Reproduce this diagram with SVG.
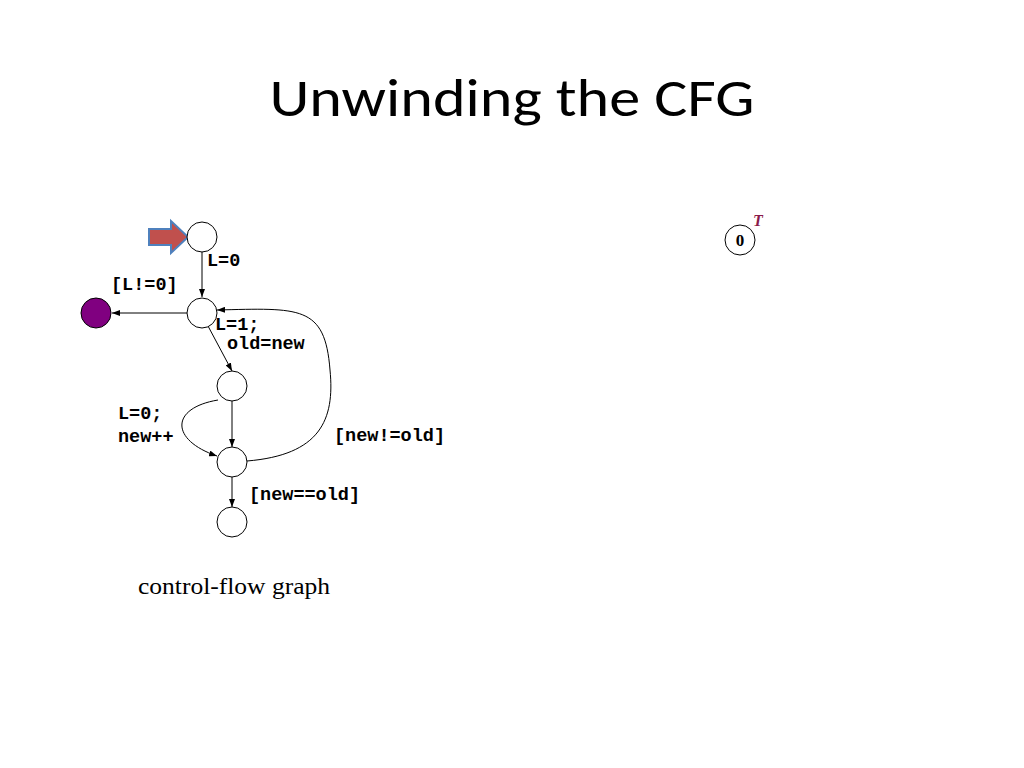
<svg xmlns="http://www.w3.org/2000/svg" width="1024" height="768" viewBox="0 0 1024 768">
<style>
.n{fill:#fff;stroke:#000;stroke-width:1}
.e{fill:none;stroke:#000;stroke-width:1;marker-end:url(#a)}
.c{font-family:"Liberation Mono",monospace;font-weight:bold;font-size:18.5px;fill:#000}
</style>
<defs><marker id="a" markerWidth="8" markerHeight="6" refX="8" refY="3" orient="auto" markerUnits="userSpaceOnUse"><path d="M0,0L8,3L0,6z" fill="#000"/></marker></defs>
<rect width="1024" height="768" fill="#fff"/>
<text x="512" y="116" text-anchor="middle" font-family="Calibri,'Liberation Sans',Arial,sans-serif" font-size="54" fill="#000" textLength="485" lengthAdjust="spacingAndGlyphs">Unwinding the CFG</text>
<g id="edges">
<line class="e" x1="202" y1="252" x2="202" y2="297"/>
<line class="e" x1="187" y1="313" x2="112" y2="313"/>
<line class="e" x1="208" y1="326" x2="232" y2="371"/>
<line class="e" x1="232" y1="401" x2="232" y2="447"/>
<path class="e" d="M218,400 C170,408 170,440 217,456"/>
<path class="e" d="M247,461 C320,455 335,420 330,370 C325,305 300,308 217,310"/>
<line class="e" x1="232" y1="477" x2="232" y2="507"/>
</g>
<g id="start"><path d="M149,229H171V221L188,237L171,253V245H149Z" fill="#c0504d" stroke="#4f81bd" stroke-width="2"/></g>
<g id="n1"><circle class="n" cx="202" cy="237" r="15"/></g>
<g id="n2"><circle class="n" cx="202" cy="313" r="15"/></g>
<g id="err"><circle cx="96" cy="313" r="15" fill="#800080" stroke="#000"/></g>
<g id="n3"><circle class="n" cx="232" cy="386" r="15"/></g>
<g id="n4"><circle class="n" cx="232" cy="462" r="15"/></g>
<g id="n5"><circle class="n" cx="232" cy="522" r="15"/></g>
<g id="labels">
<text class="c" x="207" y="266">L=0</text>
<text class="c" x="111" y="290">[L!=0]</text>
<text class="c" x="215" y="330">L=1;</text>
<text class="c" x="227" y="349">old=new</text>
<text class="c" x="118" y="419">L=0;</text>
<text class="c" x="118" y="442">new++</text>
<text class="c" x="334" y="441">[new!=old]</text>
<text class="c" x="249" y="500">[new==old]</text>
</g>
<text x="234" y="594" text-anchor="middle" font-family="'Liberation Serif',serif" font-size="24" fill="#000" textLength="192" lengthAdjust="spacingAndGlyphs">control-flow graph</text>
<g id="t0"><circle class="n" cx="740" cy="240" r="15"/>
<text x="740" y="246" text-anchor="middle" font-family="'Liberation Serif',serif" font-weight="bold" font-size="17">0</text>
<text x="758" y="226" text-anchor="middle" font-family="'Liberation Serif',serif" font-weight="bold" font-style="italic" font-size="16" fill="#8b1a4a">T</text></g>
</svg>
